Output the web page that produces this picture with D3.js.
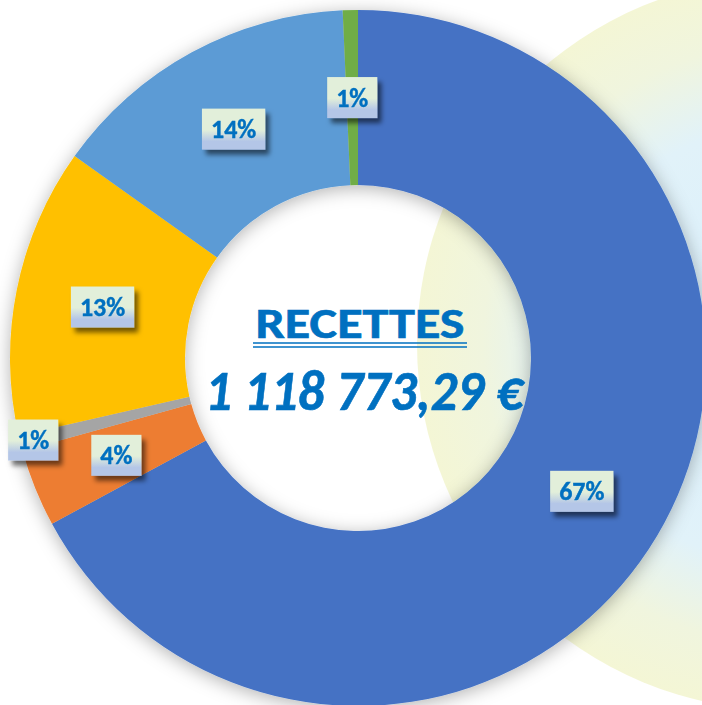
<!DOCTYPE html>
<html>
<head>
<meta charset="utf-8">
<script src="https://cdn.jsdelivr.net/npm/d3@7"></script>
<style>
  html, body { margin: 0; padding: 0; background: #fff; }
  svg { display: block; }
</style>
</head>
<body>
<svg id="chart" width="702" height="705"></svg>
<script>
"use strict";

// data (share of total, in %)
const categories = ["Part 1", "Part 2", "Part 3", "Part 4", "Part 5", "Part 6"];
const values = [66.9, 3.6, 0.7, 13.4, 14.4, 0.7];
const colors = ["#4472C4", "#ED7D31", "#A5A5A5", "#FFC000", "#5B9BD5", "#70AD47"];
const title = "RECETTES";
const totalText = "1 118 773,29 €";

const W = 702, H = 705;
const cx = 358, cy = 358, rOut = 348, rIn = 173;
const font = "Carlito, Calibri, 'Open Sans', sans-serif";
const blueText = "#0070C0";

const svg = d3.select("#chart");
const defs = svg.append("defs");

// pale backdrop disc on the right
let bg = defs.append("radialGradient").attr("id", "bgGrad")
  .attr("gradientUnits", "userSpaceOnUse").attr("cx", 783).attr("cy", 344).attr("r", 366);
bg.append("stop").attr("offset", 0).attr("stop-color", "#D9EFFC");
bg.append("stop").attr("offset", 0.6).attr("stop-color", "#E1F2F9");
bg.append("stop").attr("offset", 0.82).attr("stop-color", "#F0F5DE");
bg.append("stop").attr("offset", 1).attr("stop-color", "#F4F6D5");

// soft glow around the ring
let glow = defs.append("filter").attr("id", "ringGlow")
  .attr("x", "-20%").attr("y", "-20%").attr("width", "140%").attr("height", "140%");
glow.append("feGaussianBlur").attr("in", "SourceAlpha").attr("stdDeviation", 9).attr("result", "b");
glow.append("feOffset").attr("in", "b").attr("dy", 3).attr("result", "o");
glow.append("feFlood").attr("flood-color", "#000").attr("flood-opacity", 0.3);
glow.append("feComposite").attr("in2", "o").attr("operator", "in").attr("result", "s");
let gm = glow.append("feMerge");
gm.append("feMergeNode").attr("in", "s");
gm.append("feMergeNode").attr("in", "SourceGraphic");

// label boxes
let lg = defs.append("linearGradient").attr("id", "boxGrad").attr("x1", 0).attr("y1", 0).attr("x2", 0).attr("y2", 1);
[[0, "#E2EFDA"], [0.52, "#E2EFDA"], [0.8, "#B4C6E7"], [1, "#B4C6E7"]].forEach(s =>
  lg.append("stop").attr("offset", s[0]).attr("stop-color", s[1]));
let bs = defs.append("filter").attr("id", "boxShadow")
  .attr("x", "-30%").attr("y", "-30%").attr("width", "170%").attr("height", "180%");
bs.append("feDropShadow").attr("dx", 4).attr("dy", 5).attr("stdDeviation", 2.5)
  .attr("flood-color", "#000").attr("flood-opacity", 0.55);

svg.append("circle").attr("cx", 783).attr("cy", 344).attr("r", 366).attr("fill", "url(#bgGrad)");

const pie = d3.pie().sort(null).value(d => d)(values);
const arc = d3.arc().innerRadius(rIn).outerRadius(rOut);
const total = d3.sum(values);

const g = svg.append("g").attr("transform", `translate(${cx},${cy})`);

g.append("g").attr("filter", "url(#ringGlow)")
  .selectAll("path").data(pie).join("path")
    .attr("d", arc)
    .attr("fill", (d, i) => colors[i]);

// centre text
const ct = g.append("g");
ct.append("text").text(title)
  .attr("x", 2).attr("y", -20).attr("text-anchor", "middle")
  .attr("font-family", font).attr("font-weight", "bold").attr("font-size", 42)
  .attr("textLength", 209).attr("lengthAdjust", "spacingAndGlyphs")
  .attr("fill", blueText).attr("stroke", blueText).attr("stroke-width", 0.6);
[-15, -11].forEach(y => ct.append("line")
  .attr("x1", -105).attr("x2", 109).attr("y1", y).attr("y2", y)
  .attr("stroke", blueText).attr("stroke-width", 1.6));
ct.append("text").text(totalText)
  .attr("x", 6).attr("y", 52).attr("text-anchor", "middle")
  .attr("font-family", font).attr("font-weight", "bold").attr("font-style", "italic")
  .attr("font-size", 57).attr("textLength", 318).attr("lengthAdjust", "spacingAndGlyphs")
  .attr("fill", blueText).attr("stroke", blueText).attr("stroke-width", 0.6);

// data labels at the ring centroid, pushed outward when they collide
const labelArc = d3.arc().innerRadius(rIn).outerRadius(rOut);
const placed = [];
const boxH = 41, pad = 9;
const lab = g.append("g");
pie.forEach((d, i) => {
  const txt = Math.round(d.value / total * 100) + "%";
  const lgp = lab.append("g").attr("filter", "url(#boxShadow)");
  const rect = lgp.append("rect").attr("fill", "url(#boxGrad)");
  const t = lgp.append("text").text(txt)
    .attr("text-anchor", "middle")
    .attr("font-family", font).attr("font-weight", "bold").attr("font-size", 26)
    .attr("fill", blueText).attr("stroke", blueText).attr("stroke-width", 0.4);
  const w = t.node().getComputedTextLength() + pad * 2;
  const a = (d.startAngle + d.endAngle) / 2;
  let [x, y] = labelArc.centroid(d);
  const hit = (px, py) => placed.some(p =>
    Math.abs(p.x - px) < (p.w + w) / 2 && Math.abs(p.y - py) < (p.h + boxH) / 2);
  if (hit(x, y)) {
    const r = rOut - 13;
    x = Math.sin(a) * r; y = -Math.cos(a) * r;
  }
  placed.push({x, y, w, h: boxH});
  rect.attr("x", x - w / 2).attr("y", y - boxH / 2).attr("width", w).attr("height", boxH);
  t.attr("x", x).attr("y", y + 9);
});
</script>
</body>
</html>
